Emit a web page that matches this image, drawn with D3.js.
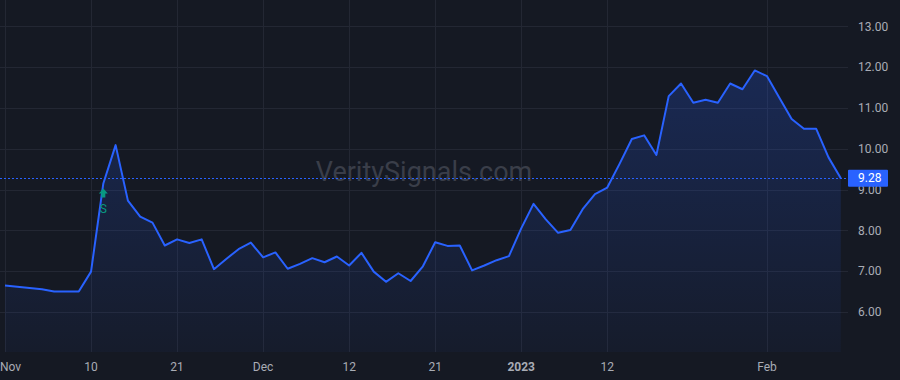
<!DOCTYPE html>
<html>
<head>
<meta charset="utf-8">
<script src="https://cdn.jsdelivr.net/npm/d3@7"></script>
<style>
  html, body { margin: 0; padding: 0; background: #151923; }
  svg { display: block; font-family: Roboto, "Liberation Sans", sans-serif; }
</style>
</head>
<body>
<div id="chart"></div>
<script>
// trading days, Nov 2022 - Feb 2023
const dates = [
  "2022-11-01","2022-11-02","2022-11-03","2022-11-04","2022-11-07","2022-11-08","2022-11-09",
  "2022-11-10","2022-11-11","2022-11-14","2022-11-15","2022-11-16","2022-11-17","2022-11-18",
  "2022-11-21","2022-11-22","2022-11-23","2022-11-25","2022-11-28","2022-11-29","2022-11-30",
  "2022-12-01","2022-12-02","2022-12-05","2022-12-06","2022-12-07","2022-12-08","2022-12-09",
  "2022-12-12","2022-12-13","2022-12-14","2022-12-15","2022-12-16","2022-12-19","2022-12-20",
  "2022-12-21","2022-12-22","2022-12-23","2022-12-27","2022-12-28","2022-12-29","2022-12-30",
  "2023-01-03","2023-01-04","2023-01-05","2023-01-06","2023-01-09","2023-01-10","2023-01-11",
  "2023-01-12","2023-01-13","2023-01-17","2023-01-18","2023-01-19","2023-01-20","2023-01-23",
  "2023-01-24","2023-01-25","2023-01-26","2023-01-27","2023-01-30","2023-01-31",
  "2023-02-01","2023-02-02","2023-02-03","2023-02-06","2023-02-07","2023-02-08","2023-02-09"
];

const prices = [
  6.65, 6.62, 6.59, 6.56, 6.50, 6.50, 6.50,
  6.99, 9.15, 10.09, 8.73, 8.34, 8.19, 7.63,
  7.78, 7.69, 7.78, 7.05, 7.30, 7.54, 7.70,
  7.34, 7.46, 7.06, 7.18, 7.32, 7.22, 7.36,
  7.14, 7.45, 6.99, 6.74, 6.95, 6.76, 7.12,
  7.71, 7.62, 7.63, 7.02, 7.14, 7.27, 7.37,
  8.05, 8.65, 8.27, 7.94, 8.01, 8.52, 8.89,
  9.05, 9.63, 10.24, 10.33, 9.85, 11.29, 11.60,
  11.13, 11.20, 11.13, 11.60, 11.46, 11.92,
  11.78, 11.25, 10.73, 10.49, 10.49, 9.79, 9.28
];

const tickDates = ["2022-11-01", "2022-11-10", "2022-11-21", "2022-12-01", "2022-12-12",
  "2022-12-21", "2023-01-03", "2023-01-12", "2023-02-01"];
const tickLabels = ["Nov", "10", "21", "Dec", "12", "21", "2023", "12", "Feb"];

const priceTicks = [6, 7, 8, 9, 10, 11, 12, 13];

const signalDate = "2022-11-11";
const signalLabel = "S";
const lastPrice = 9.28;
const watermark = "VeritySignals.com";

const W = 900, H = 380;
const plotRight = 848, plotBottom = 352;

const blue = "#2962ff";
const grid = "#232733";
const textCol = "#a9acb5";

const svg = d3.select("#chart")
  .append("svg")
  .attr("width", W)
  .attr("height", H);

svg.append("rect")
  .attr("width", W)
  .attr("height", H)
  .attr("fill", "#151923");

// Scales
const x = d3.scalePoint()
  .domain(dates)
  .range([5, 840.8]);

const y = d3.scaleLinear()
  .domain([6, 13])
  .range([312, 26.4]);

// Gridlines
svg.append("g")
  .selectAll("line")
  .data(priceTicks)
  .join("line")
  .attr("x1", 0)
  .attr("x2", plotRight)
  .attr("y1", d => Math.round(y(d)) + 0.5)
  .attr("y2", d => Math.round(y(d)) + 0.5)
  .attr("stroke", grid);

svg.append("g")
  .selectAll("line")
  .data(tickDates)
  .join("line")
  .attr("x1", d => Math.round(x(d)) + 0.5)
  .attr("x2", d => Math.round(x(d)) + 0.5)
  .attr("y1", 0)
  .attr("y2", plotBottom)
  .attr("stroke", grid);

// Watermark
svg.append("text")
  .attr("x", 424)
  .attr("y", 172)
  .attr("text-anchor", "middle")
  .attr("dominant-baseline", "central")
  .style("font-size", "27px")
  .style("fill", "#3a3e49")
  .text(watermark);

// Area gradient
const gradient = svg.append("defs")
  .append("linearGradient")
  .attr("id", "area-gradient")
  .attr("gradientUnits", "userSpaceOnUse")
  .attr("x1", 0).attr("y1", y(d3.max(prices)))
  .attr("x2", 0).attr("y2", plotBottom);

gradient.append("stop")
  .attr("offset", "0%")
  .attr("stop-color", "rgba(41, 98, 255, 0.22)");

gradient.append("stop")
  .attr("offset", "100%")
  .attr("stop-color", "rgba(41, 98, 255, 0.04)");

const data = dates.map((d, i) => ({ date: d, price: prices[i] }));

const area = d3.area()
  .x(d => x(d.date))
  .y0(plotBottom)
  .y1(d => y(d.price));

const line = d3.line()
  .x(d => x(d.date))
  .y(d => y(d.price));

svg.append("path")
  .datum(data)
  .attr("fill", "url(#area-gradient)")
  .attr("d", area);

// Last price line
svg.append("line")
  .attr("x1", 0)
  .attr("x2", plotRight)
  .attr("y1", Math.round(y(lastPrice)) + 0.5)
  .attr("y2", Math.round(y(lastPrice)) + 0.5)
  .attr("stroke", blue)
  .attr("stroke-width", 1)
  .attr("stroke-dasharray", "2,2");

svg.append("path")
  .datum(data)
  .attr("fill", "none")
  .attr("stroke", blue)
  .attr("stroke-width", 2)
  .attr("stroke-linejoin", "round")
  .attr("d", line);

// Signal marker
const sx = x(signalDate);
const sy = y(prices[dates.indexOf(signalDate)]);
svg.append("path")
  .attr("d", `M${sx},${sy + 5} L${sx + 4.5},${sy + 10} L${sx + 2},${sy + 10} L${sx + 2},${sy + 14}
    L${sx - 2},${sy + 14} L${sx - 2},${sy + 10} L${sx - 4.5},${sy + 10} Z`)
  .attr("fill", "#089981");

svg.append("text")
  .attr("x", sx)
  .attr("y", sy + 30)
  .attr("text-anchor", "middle")
  .style("font-size", "12px")
  .style("fill", "#089981")
  .text(signalLabel);

// Y axis labels
svg.append("g")
  .selectAll("text")
  .data(priceTicks)
  .join("text")
  .attr("x", 858)
  .attr("y", d => y(d))
  .attr("dy", "0.35em")
  .style("font-size", "12px")
  .style("fill", textCol)
  .text(d => d3.format(".2f")(d));

// Last price tag
svg.append("rect")
  .attr("x", plotRight)
  .attr("y", y(lastPrice) - 8.5)
  .attr("width", 40)
  .attr("height", 17)
  .attr("rx", 1)
  .attr("fill", blue);

svg.append("text")
  .attr("x", 858)
  .attr("y", y(lastPrice))
  .attr("dy", "0.35em")
  .style("font-size", "12px")
  .style("fill", "#ffffff")
  .text(d3.format(".2f")(lastPrice));

// X axis labels
svg.append("g")
  .selectAll("text")
  .data(tickDates)
  .join("text")
  .attr("x", d => x(d))
  .attr("y", 371)
  .attr("text-anchor", "middle")
  .style("font-size", "12px")
  .style("font-weight", (d, i) => tickLabels[i] === "2023" ? "bold" : "normal")
  .style("fill", textCol)
  .text((d, i) => tickLabels[i])
  .each(function() {
    // keep edge labels inside the plot
    const w = this.getComputedTextLength();
    const cx = +d3.select(this).attr("x");
    if (cx - w / 2 < 0) d3.select(this).attr("x", w / 2);
  });
</script>
</body>
</html>
